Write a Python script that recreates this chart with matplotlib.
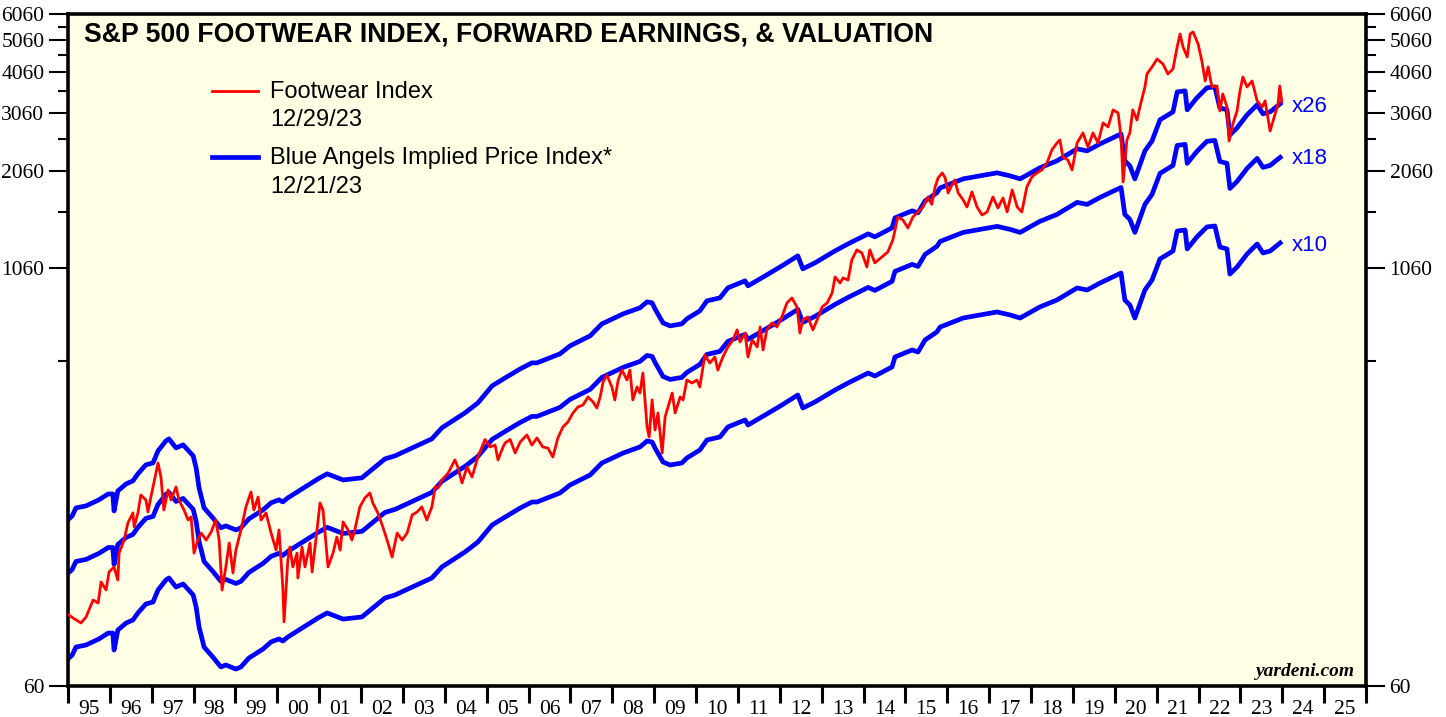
import matplotlib
matplotlib.use("Agg")
import matplotlib.pyplot as plt
import numpy as np
from matplotlib.ticker import FixedLocator, NullFormatter, FixedFormatter
from matplotlib.lines import Line2D

# ---------------- data ----------------
eps_years = [1995.02, 1995.10, 1995.19, 1995.43, 1995.74, 1995.96, 1996.07, 1996.10, 1996.19, 1996.39,
             1996.55, 1996.67, 1996.86, 1997.03, 1997.15, 1997.34, 1997.41, 1997.58, 1997.75, 1997.99,
             1998.06, 1998.13, 1998.25, 1998.46, 1998.65, 1998.77, 1999.01, 1999.13, 1999.32, 1999.66,
             1999.85, 2000.04, 2000.13, 2000.25, 2000.97, 2001.19, 2001.57, 2002.02, 2002.57, 2002.81,
             2003.69, 2003.93, 2004.48, 2004.79, 2005.13, 2005.44, 2005.80, 2006.08, 2006.20, 2006.75,
             2006.99, 2007.47, 2007.75, 2008.26, 2008.66, 2008.83, 2008.95, 2009.02, 2009.21, 2009.38,
             2009.66, 2009.78, 2010.09, 2010.26, 2010.57, 2010.76, 2011.17, 2011.24, 2011.65, 2012.05,
             2012.43, 2012.55, 2012.84, 2013.32, 2013.63, 2014.11, 2014.27, 2014.68, 2014.75, 2015.16,
             2015.30, 2015.47, 2015.75, 2015.83, 2016.38, 2016.78, 2017.19, 2017.50, 2017.74, 2018.21,
             2018.62, 2019.10, 2019.34, 2019.65, 2020.05, 2020.15, 2020.24, 2020.36, 2020.48, 2020.72,
             2020.89, 2021.08, 2021.39, 2021.49, 2021.68, 2021.73, 2021.96, 2022.20, 2022.39, 2022.51,
             2022.68, 2022.75, 2022.92, 2023.16, 2023.40, 2023.54, 2023.71, 2023.95]
forward_eps = [7.27, 7.42, 7.84, 7.95, 8.29, 8.63, 8.63, 7.68, 8.81, 9.25,
               9.44, 9.91, 10.54, 10.68, 11.60, 12.43, 12.60, 11.84, 12.09, 11.21,
               10.32, 9.00, 7.84, 7.32, 6.84, 6.93, 6.74, 6.84, 7.27, 7.74,
               8.12, 8.29, 8.17, 8.40, 9.57, 9.91, 9.50, 9.64, 10.98, 11.21,
               12.60, 13.59, 15.06, 16.13, 18.13, 19.15, 20.37, 21.23, 21.23, 22.59,
               23.86, 25.56, 27.75, 29.73, 30.98, 32.28, 32.06, 30.76, 27.94, 27.37,
               27.75, 28.72, 30.34, 32.50, 33.18, 35.54, 37.29, 36.03, 38.59, 41.33,
               44.27, 40.49, 42.20, 45.82, 48.07, 51.49, 50.44, 53.66, 57.47, 60.32,
               59.48, 64.61, 68.23, 70.61, 75.12, 76.69, 78.30, 76.69, 75.12, 81.03,
               85.01, 92.32, 91.06, 95.54, 100.9, 102.3, 85.0, 82.15, 75.12, 91.06,
               97.52, 112.7, 119.0, 136.5, 137.5, 120.7, 131.0, 140.4, 141.3, 122.3,
               120.7, 101.6, 106.6, 116.6, 124.9, 117.4, 119.0, 125.8]
multiples = [26, 18, 10]

fw_years = [1995.02, 1995.12, 1995.31, 1995.43, 1995.60, 1995.72, 1995.79, 1995.91, 1995.98, 1996.10,
            1996.19, 1996.22, 1996.34, 1996.43, 1996.55, 1996.58, 1996.67, 1996.74, 1996.86, 1996.91,
            1996.98, 1997.05, 1997.15, 1997.22, 1997.29, 1997.39, 1997.46, 1997.58, 1997.65, 1997.77,
            1997.87, 1997.94, 1998.01, 1998.10, 1998.18, 1998.30, 1998.42, 1998.53, 1998.61, 1998.68,
            1998.77, 1998.85, 1998.94, 1999.01, 1999.13, 1999.25, 1999.37, 1999.44, 1999.54, 1999.61,
            1999.73, 1999.85, 1999.97, 2000.04, 2000.13, 2000.16, 2000.25, 2000.30, 2000.37, 2000.47,
            2000.49, 2000.59, 2000.66, 2000.78, 2000.83, 2000.90, 2001.02, 2001.09, 2001.21, 2001.33,
            2001.42, 2001.50, 2001.57, 2001.69, 2001.78, 2001.85, 2001.97, 2002.09, 2002.21, 2002.28,
            2002.40, 2002.52, 2002.62, 2002.74, 2002.86, 2002.98, 2003.10, 2003.22, 2003.34, 2003.45,
            2003.57, 2003.69, 2003.77, 2003.84, 2003.93, 2004.08, 2004.24, 2004.31, 2004.41, 2004.53,
            2004.65, 2004.79, 2004.96, 2005.08, 2005.20, 2005.27, 2005.39, 2005.44, 2005.56, 2005.68,
            2005.80, 2005.96, 2006.08, 2006.20, 2006.34, 2006.46, 2006.58, 2006.70, 2006.82, 2006.94,
            2007.06, 2007.18, 2007.30, 2007.42, 2007.54, 2007.63, 2007.71, 2007.78, 2007.87, 2007.99,
            2008.06, 2008.14, 2008.23, 2008.35, 2008.42, 2008.49, 2008.59, 2008.66, 2008.73, 2008.83,
            2008.88, 2008.95, 2009.02, 2009.09, 2009.19, 2009.26, 2009.33, 2009.43, 2009.50, 2009.62,
            2009.69, 2009.78, 2009.90, 2010.02, 2010.09, 2010.21, 2010.33, 2010.45, 2010.52, 2010.64,
            2010.76, 2010.88, 2010.98, 2011.05, 2011.17, 2011.24, 2011.34, 2011.46, 2011.53, 2011.60,
            2011.69, 2011.81, 2011.93, 2012.05, 2012.17, 2012.29, 2012.41, 2012.48, 2012.55, 2012.67,
            2012.79, 2012.89, 2013.01, 2013.13, 2013.25, 2013.32, 2013.44, 2013.51, 2013.63, 2013.72,
            2013.84, 2013.96, 2014.08, 2014.15, 2014.27, 2014.44, 2014.58, 2014.70, 2014.82, 2014.94,
            2015.06, 2015.18, 2015.30, 2015.42, 2015.54, 2015.63, 2015.71, 2015.78, 2015.88, 2015.95,
            2016.02, 2016.11, 2016.18, 2016.26, 2016.38, 2016.47, 2016.59, 2016.71, 2016.83, 2016.95,
            2017.09, 2017.21, 2017.33, 2017.43, 2017.55, 2017.67, 2017.78, 2017.90, 2018.02, 2018.14,
            2018.26, 2018.38, 2018.50, 2018.62, 2018.69, 2018.76, 2018.88, 2018.98, 2019.10, 2019.24,
            2019.36, 2019.48, 2019.60, 2019.72, 2019.84, 2019.96, 2020.08, 2020.15, 2020.20, 2020.29,
            2020.36, 2020.43, 2020.53, 2020.60, 2020.72, 2020.77, 2020.89, 2021.01, 2021.15, 2021.27,
            2021.39, 2021.49, 2021.56, 2021.63, 2021.73, 2021.80, 2021.87, 2021.99, 2022.08, 2022.16,
            2022.23, 2022.32, 2022.44, 2022.51, 2022.58, 2022.68, 2022.73, 2022.82, 2022.92, 2022.99,
            2023.06, 2023.16, 2023.28, 2023.40, 2023.52, 2023.59, 2023.71, 2023.83, 2023.90, 2023.94,
            2023.99]
footwear_index = [97.7, 95.7, 92.5, 96.3, 108.3, 106.1, 122.6, 116.0, 131.3, 135.9,
                  124.3, 149.5, 163.5, 183.8, 197.0, 178.8, 197.0, 222.7, 215.3, 198.3,
                  219.7, 242.0, 277.5, 252.0, 201.0, 230.5, 215.3, 235.4, 215.3, 201.0,
                  187.6, 191.6, 149.5, 163.5, 171.6, 163.5, 172.9, 187.6, 163.5, 116.0,
                  135.9, 160.2, 130.4, 152.6, 175.2, 205.2, 227.4, 201.0, 219.7, 187.6,
                  197.0, 171.6, 152.6, 175.2, 118.4, 93.2, 142.6, 155.8, 135.9, 149.5,
                  126.0, 155.8, 135.9, 160.2, 131.3, 155.8, 210.9, 201.0, 135.9, 149.5,
                  166.9, 152.6, 185.1, 175.2, 163.5, 175.2, 205.2, 218.2, 225.8, 210.9,
                  197.0, 178.8, 163.5, 145.5, 171.6, 163.5, 171.6, 194.2, 198.3, 205.2,
                  187.6, 205.2, 235.4, 233.8, 247.0, 259.1, 283.4, 270.0, 242.0, 270.0,
                  252.0, 289.2, 326.2, 309.8, 314.0, 283.4, 309.8, 318.4, 326.2, 297.3,
                  320.6, 336.4, 314.0, 329.6, 309.8, 307.6, 289.2, 329.6, 355.4, 367.8,
                  391.3, 407.7, 413.3, 436.7, 422.0, 404.9, 436.7, 484.0, 507.9, 467.7,
                  427.9, 490.7, 525.5, 490.7, 525.5, 427.9, 467.7, 448.8, 514.9, 355.4,
                  331.8, 427.9, 348.0, 391.3, 297.3, 380.7, 407.7, 448.8, 391.3, 436.7,
                  427.9, 490.7, 480.7, 490.7, 467.7, 582.7, 551.6, 574.7, 525.5, 574.7,
                  615.6, 646.1, 692.3, 637.3, 677.9, 574.7, 646.1, 615.6, 706.3, 603.2,
                  692.3, 726.0, 706.3, 756.6, 832.9, 862.0, 810.3, 677.9, 741.4, 756.6,
                  692.3, 741.4, 810.3, 832.9, 892.1, 995.8, 955.4, 989.1, 975.2, 1119.3,
                  1199.0, 1174.4, 1066.6, 1199.0, 1096.6, 1142.4, 1182.4, 1284.7, 1503.5, 1473.0,
                  1394.0, 1503.5, 1556.0, 1610.4, 1725.0, 1640.0, 1847.5, 1965.4, 2034.0, 1965.4,
                  1773.3, 1873.2, 1938.5, 1773.3, 1689.6, 1610.4, 1785.5, 1610.4, 1524.3, 1556.0,
                  1725.0, 1599.4, 1713.3, 1556.0, 1810.2, 1610.4, 1556.0, 1847.5, 1979.0, 2034.0,
                  2077.0, 2178.0, 2385.0, 2499.0, 2551.0, 2270.0, 2224.0, 2077.0, 2499.0, 2677.0,
                  2431.0, 2677.0, 2499.0, 2867.0, 2790.0, 3136.0, 3071.0, 2605.0, 1912.0, 2551.0,
                  2677.0, 3136.0, 2926.0, 3200.0, 3671.0, 4015.0, 4212.0, 4450.0, 4300.0, 4015.0,
                  4154.0, 4832.0, 5283.0, 4832.0, 4511.0, 5283.0, 5356.0, 4933.0, 4389.0, 3826.0,
                  4212.0, 3671.0, 3697.0, 3114.0, 3499.0, 3200.0, 2534.0, 2848.0, 3114.0, 3572.0,
                  3932.0, 3671.0, 3826.0, 3336.0, 3200.0, 3336.0, 2714.0, 3050.0, 3266.0, 3697.0,
                  3313.0]

y_major = [60, 1060, 2060, 3060, 4060, 5060, 6060]
y_minor = [560, 1560, 2560, 3560, 4560, 5560]
year_labels = ["95", "96", "97", "98", "99", "00", "01", "02", "03", "04", "05", "06", "07", "08",
               "09", "10", "11", "12", "13", "14", "15", "16", "17", "18", "19", "20", "21", "22",
               "23", "24", "25"]

# ---------------- figure ----------------
W, H = 1446, 717
fig = plt.figure(figsize=(W / 100, H / 100), dpi=100)
ax = fig.add_axes([68 / W, 1 - 686 / H, (1366 - 68) / W, (686 - 14) / H])
ax.set_facecolor("#FFFFE6")

eps = np.array(forward_eps)
for m in multiples:
    ax.plot(eps_years, eps * m, color="#0000FF", lw=3.4, solid_joinstyle="round", zorder=2)
ax.plot(fw_years, footwear_index, color="#FF0000", lw=2.0, zorder=3)

ax.set_yscale("log")
ax.set_ylim(60, 6060)
ax.set_xlim(1995, 2026)

ax.yaxis.set_major_locator(FixedLocator(y_major))
ax.yaxis.set_major_formatter(FixedFormatter([str(v) for v in y_major]))
ax.yaxis.set_minor_locator(FixedLocator(y_minor))
ax.yaxis.set_minor_formatter(NullFormatter())
ax.tick_params(axis="y", which="both", left=True, right=True, labelleft=True, labelright=True,
               direction="out", width=1.5, colors="black", labelsize=15.5, pad=3)
ax.tick_params(axis="y", which="major", length=14)
ax.tick_params(axis="y", which="minor", length=7)

ax.xaxis.set_major_locator(FixedLocator(np.arange(1995, 2027)))
ax.xaxis.set_major_formatter(NullFormatter())
ax.xaxis.set_minor_locator(FixedLocator(np.arange(1995.5, 2026, 1.0)))
ax.xaxis.set_minor_formatter(FixedFormatter(year_labels))
ax.tick_params(axis="x", which="major", direction="out", length=12, width=2.2)
ax.tick_params(axis="x", which="minor", length=0, labelsize=15.5, pad=10)

for lab in ax.get_yticklabels() + ax.get_xticklabels(minor=True):
    lab.set_fontfamily("Liberation Serif")

for s in ax.spines.values():
    s.set_linewidth(2.6)
    s.set_color("black")

def axx(px):
    return (px - 68) / 1298.0

def axy(py):
    return (686 - py) / 672.0

ax.text(axx(84), axy(34), "S&P 500 FOOTWEAR INDEX, FORWARD EARNINGS, & VALUATION",
        transform=ax.transAxes, fontsize=19.2, fontweight="bold", family="Liberation Sans",
        va="center", ha="left")

ax.add_line(Line2D([axx(212), axx(258)], [axy(91), axy(91)], transform=ax.transAxes,
                   color="#FF0000", lw=2.0))
ax.text(axx(270), axy(92), "Footwear Index", transform=ax.transAxes, fontsize=17,
        family="Liberation Sans", va="center")
ax.text(axx(270), axy(120), "12/29/23", transform=ax.transAxes, fontsize=17,
        family="Liberation Sans", va="center")
ax.add_line(Line2D([axx(212), axx(258)], [axy(157), axy(157)], transform=ax.transAxes,
                   color="#0000FF", lw=3.4))
ax.text(axx(270), axy(158), "Blue Angels Implied Price Index*", transform=ax.transAxes,
        fontsize=17, family="Liberation Sans", va="center")
ax.text(axx(270), axy(187), "12/21/23", transform=ax.transAxes, fontsize=17,
        family="Liberation Sans", va="center")

for lbl, py in zip(["x26", "x18", "x10"], [106, 159, 245]):
    ax.text(axx(1292), axy(py), lbl, transform=ax.transAxes, fontsize=16, color="#0000FF",
            family="Liberation Sans", va="center")

ax.text(axx(1355), axy(671), "yardeni.com", transform=ax.transAxes, fontsize=14,
        family="Liberation Serif", fontweight="bold", style="italic", ha="right", va="center")

fig.savefig("out.png", dpi=100)
